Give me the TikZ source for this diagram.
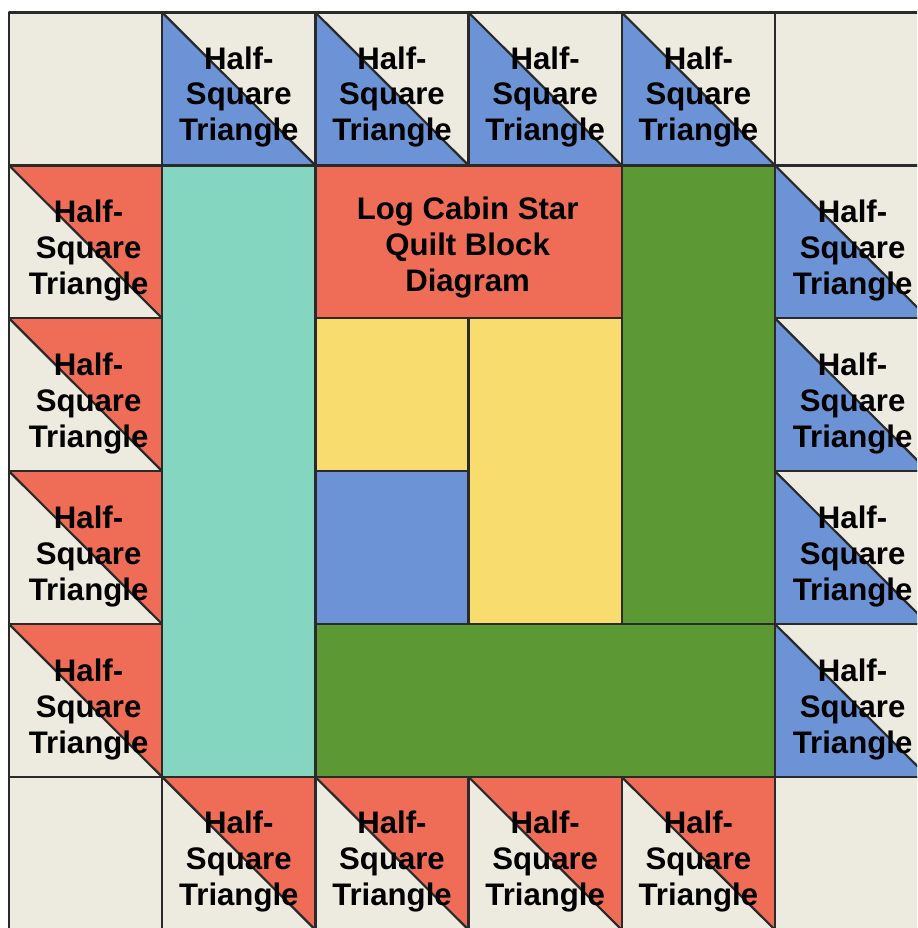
\documentclass[tikz,border=0pt]{standalone}
\usepackage{fontspec}
\setmainfont{Liberation Sans}
\definecolor{qcream}{HTML}{EDEAE0}
\definecolor{qblue}{HTML}{6B93D6}
\definecolor{qred}{HTML}{EF6D57}
\definecolor{qteal}{HTML}{84D6C0}
\definecolor{qgreen}{HTML}{5C9934}
\definecolor{qyellow}{HTML}{F9DC6E}
\definecolor{qline}{HTML}{2A2A2A}
\newcommand\qx[1]{9+153.2*(#1)}
\newcommand\qy[1]{12.5+152.9*(#1)}
% half-square triangle, coloured part lower-left
\newcommand\hstLL[3]{%
  \fill[qcream] ({\qx{#1}},{\qy{#2}}) rectangle ++(153.2,152.9);
  \fill[#3] ({\qx{#1}},{\qy{#2}}) -- ++(0,152.9) -- ++(153.2,0) -- cycle;
  \draw[seam] ({\qx{#1}},{\qy{#2}}) rectangle ++(153.2,152.9);
  \draw[seam] ({\qx{#1}},{\qy{#2}}) -- ++(153.2,152.9);
}
% half-square triangle, coloured part upper-right
\newcommand\hstUR[3]{%
  \fill[qcream] ({\qx{#1}},{\qy{#2}}) rectangle ++(153.2,152.9);
  \fill[#3] ({\qx{#1}},{\qy{#2}}) -- ++(153.2,0) -- ++(0,152.9) -- cycle;
  \draw[seam] ({\qx{#1}},{\qy{#2}}) rectangle ++(153.2,152.9);
  \draw[seam] ({\qx{#1}},{\qy{#2}}) -- ++(153.2,152.9);
}
\begin{document}
\begin{tikzpicture}[x=0.03cm,y=-0.03cm,
  seam/.style={draw=qline,line width=1.9pt,line join=round},
  piece/.style={seam},
  lbl/.style={font=\bfseries\fontsize{26.6}{30.6}\selectfont,align=center,inner sep=0pt,text=black}]
\useasboundingbox (0,0) rectangle (917,928);
\clip (0,0) rectangle (917,928);
\fill[white] (0,0) rectangle (917,928);
% corner squares
\foreach \c/\r in {0/0,5/0,0/5,5/5}
  \filldraw[piece,fill=qcream] ({\qx{\c}},{\qy{\r}}) rectangle ++(153.2,152.9);
% half-square triangles
\foreach \c in {1,...,4} {
  \hstLL{\c}{0}{qblue}
  \hstUR{\c}{5}{qred}
}
\foreach \r in {1,...,4} {
  \hstUR{0}{\r}{qred}
  \hstLL{5}{\r}{qblue}
}
% centre logs
\filldraw[piece,fill=qteal] ({\qx{1}},{\qy{1}}) rectangle ({\qx{2}},{\qy{5}});
\filldraw[piece,fill=qred] ({\qx{2}},{\qy{1}}) rectangle ({\qx{4}},{\qy{2}});
\filldraw[piece,fill=qgreen] ({\qx{4}},{\qy{1}}) rectangle ({\qx{5}},{\qy{4}});
\filldraw[piece,fill=qyellow] ({\qx{2}},{\qy{2}}) rectangle ({\qx{3}},{\qy{3}});
\filldraw[piece,fill=qyellow] ({\qx{3}},{\qy{2}}) rectangle ({\qx{4}},{\qy{4}});
\filldraw[piece,fill=qblue] ({\qx{2}},{\qy{3}}) rectangle ({\qx{3}},{\qy{4}});
\filldraw[piece,fill=qgreen] ({\qx{2}},{\qy{4}}) rectangle ({\qx{5}},{\qy{5}});
% labels
\foreach \c in {1,...,4} {
  \node[lbl] (top\c) at ({\qx{\c+0.5}},{\qy{0.5}+8}) {Half-\\Square\\Triangle};
  \node[lbl] (bot\c) at ({\qx{\c+0.5}},{\qy{5.5}+8}) {Half-\\Square\\Triangle};
}
\foreach \r in {1,...,4} {
  \node[lbl] (lft\r) at ({\qx{0.5}+3},{\qy{\r+0.5}+9}) {Half-\\Square\\Triangle};
  \node[lbl] (rgt\r) at ({\qx{5.5}+1},{\qy{\r+0.5}+9}) {Half-\\Square\\Triangle};
}
\node[lbl] (title) at ({\qx{3}-1},{\qy{1.5}+6}) {Log Cabin Star\\Quilt Block\\Diagram};
\end{tikzpicture}
\end{document}
